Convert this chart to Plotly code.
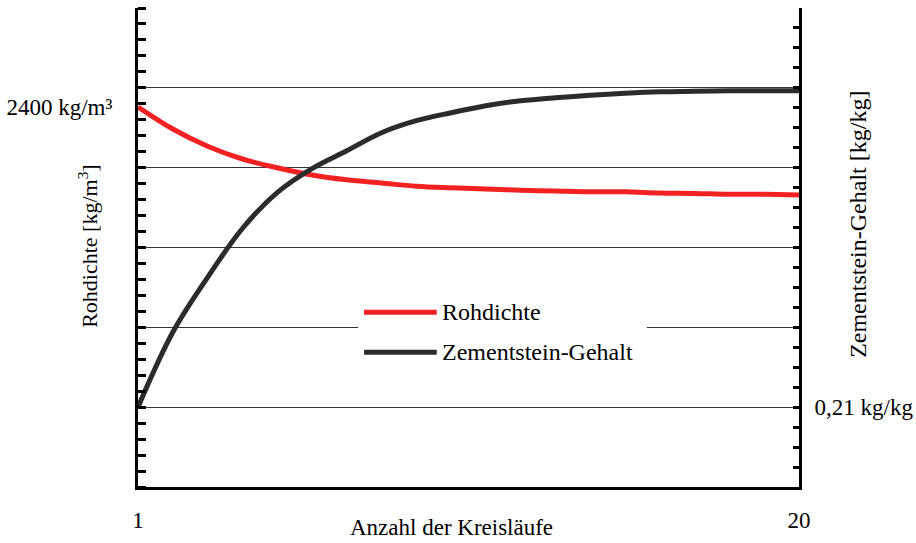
import plotly.graph_objects as go

# ---- data ----
cycles = list(range(1, 21))
rohdichte = [2400, 2372.5, 2351, 2335, 2324, 2315, 2309, 2305, 2301, 2299,
             2297.5, 2296, 2295, 2294, 2294, 2292.5, 2292, 2291, 2291, 2290]
zementstein = [0.21, 0.2569, 0.2913, 0.3219, 0.3444, 0.3594, 0.3706, 0.3819, 0.3894, 0.3944,
               0.3988, 0.4019, 0.4038, 0.4053, 0.4066, 0.4075, 0.4078, 0.4081, 0.4081, 0.4081]

x_tickvals = [1, 20]
x_ticktext = ["1", "20"]
left_tickvals = [2400]
left_ticktext = ["2400 kg/m³"]
right_tickvals = [0.21]
right_ticktext = ["0,21 kg/kg"]
right_range = [0.16, 0.46]
right_grid_step = 0.05

series_names = ["Rohdichte", "Zementstein-Gehalt"]
series_colors = ["#f22222", "#2b2b2b"]

FONT = "Liberation Serif, Times New Roman, serif"
FS = 23
FS_LEG = 24

fig = go.Figure()
fig.add_trace(go.Scatter(x=cycles, y=rohdichte, mode="lines", name=series_names[0],
                         line=dict(color=series_colors[0], width=5, shape="spline"),
                         yaxis="y", showlegend=False))
fig.add_trace(go.Scatter(x=cycles, y=zementstein, mode="lines", name=series_names[1],
                         line=dict(color=series_colors[1], width=5, shape="spline"),
                         yaxis="y2", showlegend=False))

# manual legend (white box covering the grid line, sample lines, labels)
fig.add_shape(type="rect", xref="paper", yref="paper", x0=0.333, x1=0.770, y0=0.245, y1=0.395,
              fillcolor="white", line=dict(width=0), layer="above")
for i, (name, col) in enumerate(zip(series_names, series_colors)):
    yy = 0.365 - i * 0.0835
    fig.add_shape(type="line", xref="paper", yref="paper", x0=0.342, x1=0.452, y0=yy, y1=yy,
                  line=dict(color=col, width=5), layer="above")
    fig.add_annotation(xref="paper", yref="paper", x=0.457, y=yy, text=name, showarrow=False,
                       xanchor="left", yanchor="middle",
                       font=dict(family=FONT, size=FS_LEG, color="black"))

# axis titles as annotations (placed like the reference)
fig.add_annotation(xref="paper", yref="paper", x=-0.076, y=0.503, text="Rohdichte [kg/m<sup>3</sup>]",
                   textangle=-90, showarrow=False, xanchor="center", yanchor="middle",
                   font=dict(family=FONT, size=22, color="black"))
fig.add_annotation(xref="paper", yref="paper", x=1.089, y=0.549, text="Zementstein-Gehalt [kg/kg]",
                   textangle=-90, showarrow=False, xanchor="center", yanchor="middle",
                   font=dict(family=FONT, size=24, color="black"))
fig.add_annotation(xref="paper", yref="paper", x=0.474, y=-0.085, text="Anzahl der Kreisläufe",
                   showarrow=False, xanchor="center", yanchor="middle",
                   font=dict(family=FONT, size=FS, color="black"))

fig.update_layout(
    width=916, height=543,
    margin=dict(l=138, r=117, t=8, b=56),
    paper_bgcolor="white", plot_bgcolor="white",
    font=dict(family=FONT, size=FS, color="black"),
    xaxis=dict(range=[1, 20], tickmode="array", tickvals=x_tickvals, ticktext=x_ticktext,
               ticks="", showgrid=False, zeroline=False, showline=True, linecolor="black",
               linewidth=3, ticklabelstandoff=10, automargin=False),
    yaxis=dict(range=[1925, 2523.75], tickmode="array", tickvals=left_tickvals,
               ticktext=left_ticktext, ticks="", showgrid=False, zeroline=False,
               showline=True, linecolor="black", linewidth=3, ticklabelstandoff=18,
               automargin=False,
               minor=dict(tickmode="linear", tick0=1925, dtick=598.75 / 30, ticks="inside",
                          ticklen=8, tickwidth=3, tickcolor="black", showgrid=False)),
    yaxis2=dict(range=right_range, overlaying="y", side="right", tickmode="array",
                tickvals=right_tickvals, ticktext=right_ticktext, ticks="inside", ticklen=6,
                tickwidth=3, tickcolor="black", showgrid=True, gridcolor="#333333", gridwidth=1,
                zeroline=False, showline=True, linecolor="black", linewidth=3,
                ticklabelstandoff=8, automargin=False,
                minor=dict(tickmode="linear", tick0=right_range[0], dtick=0.0125, ticks="inside",
                           ticklen=6, tickwidth=3, tickcolor="black", showgrid=False)),
    # grid-only axis sharing the right scale (horizontal grid lines every 0.05 kg/kg)
    yaxis3=dict(range=right_range, overlaying="y", side="right", tickmode="linear",
                tick0=right_range[0], dtick=right_grid_step, showticklabels=False, ticks="",
                showgrid=True, gridcolor="#333333", gridwidth=1, zeroline=False,
                showline=False, automargin=False),
)
# dummy invisible trace to activate the grid-only axis
fig.add_trace(go.Scatter(x=[cycles[0]], y=[right_range[0]], yaxis="y3", mode="markers",
                         marker=dict(opacity=0), showlegend=False, hoverinfo="skip"))

fig.write_html("out.html", config={"displayModeBar": False},
               post_script="document.body.style.margin='0';document.body.style.overflow='hidden';")
